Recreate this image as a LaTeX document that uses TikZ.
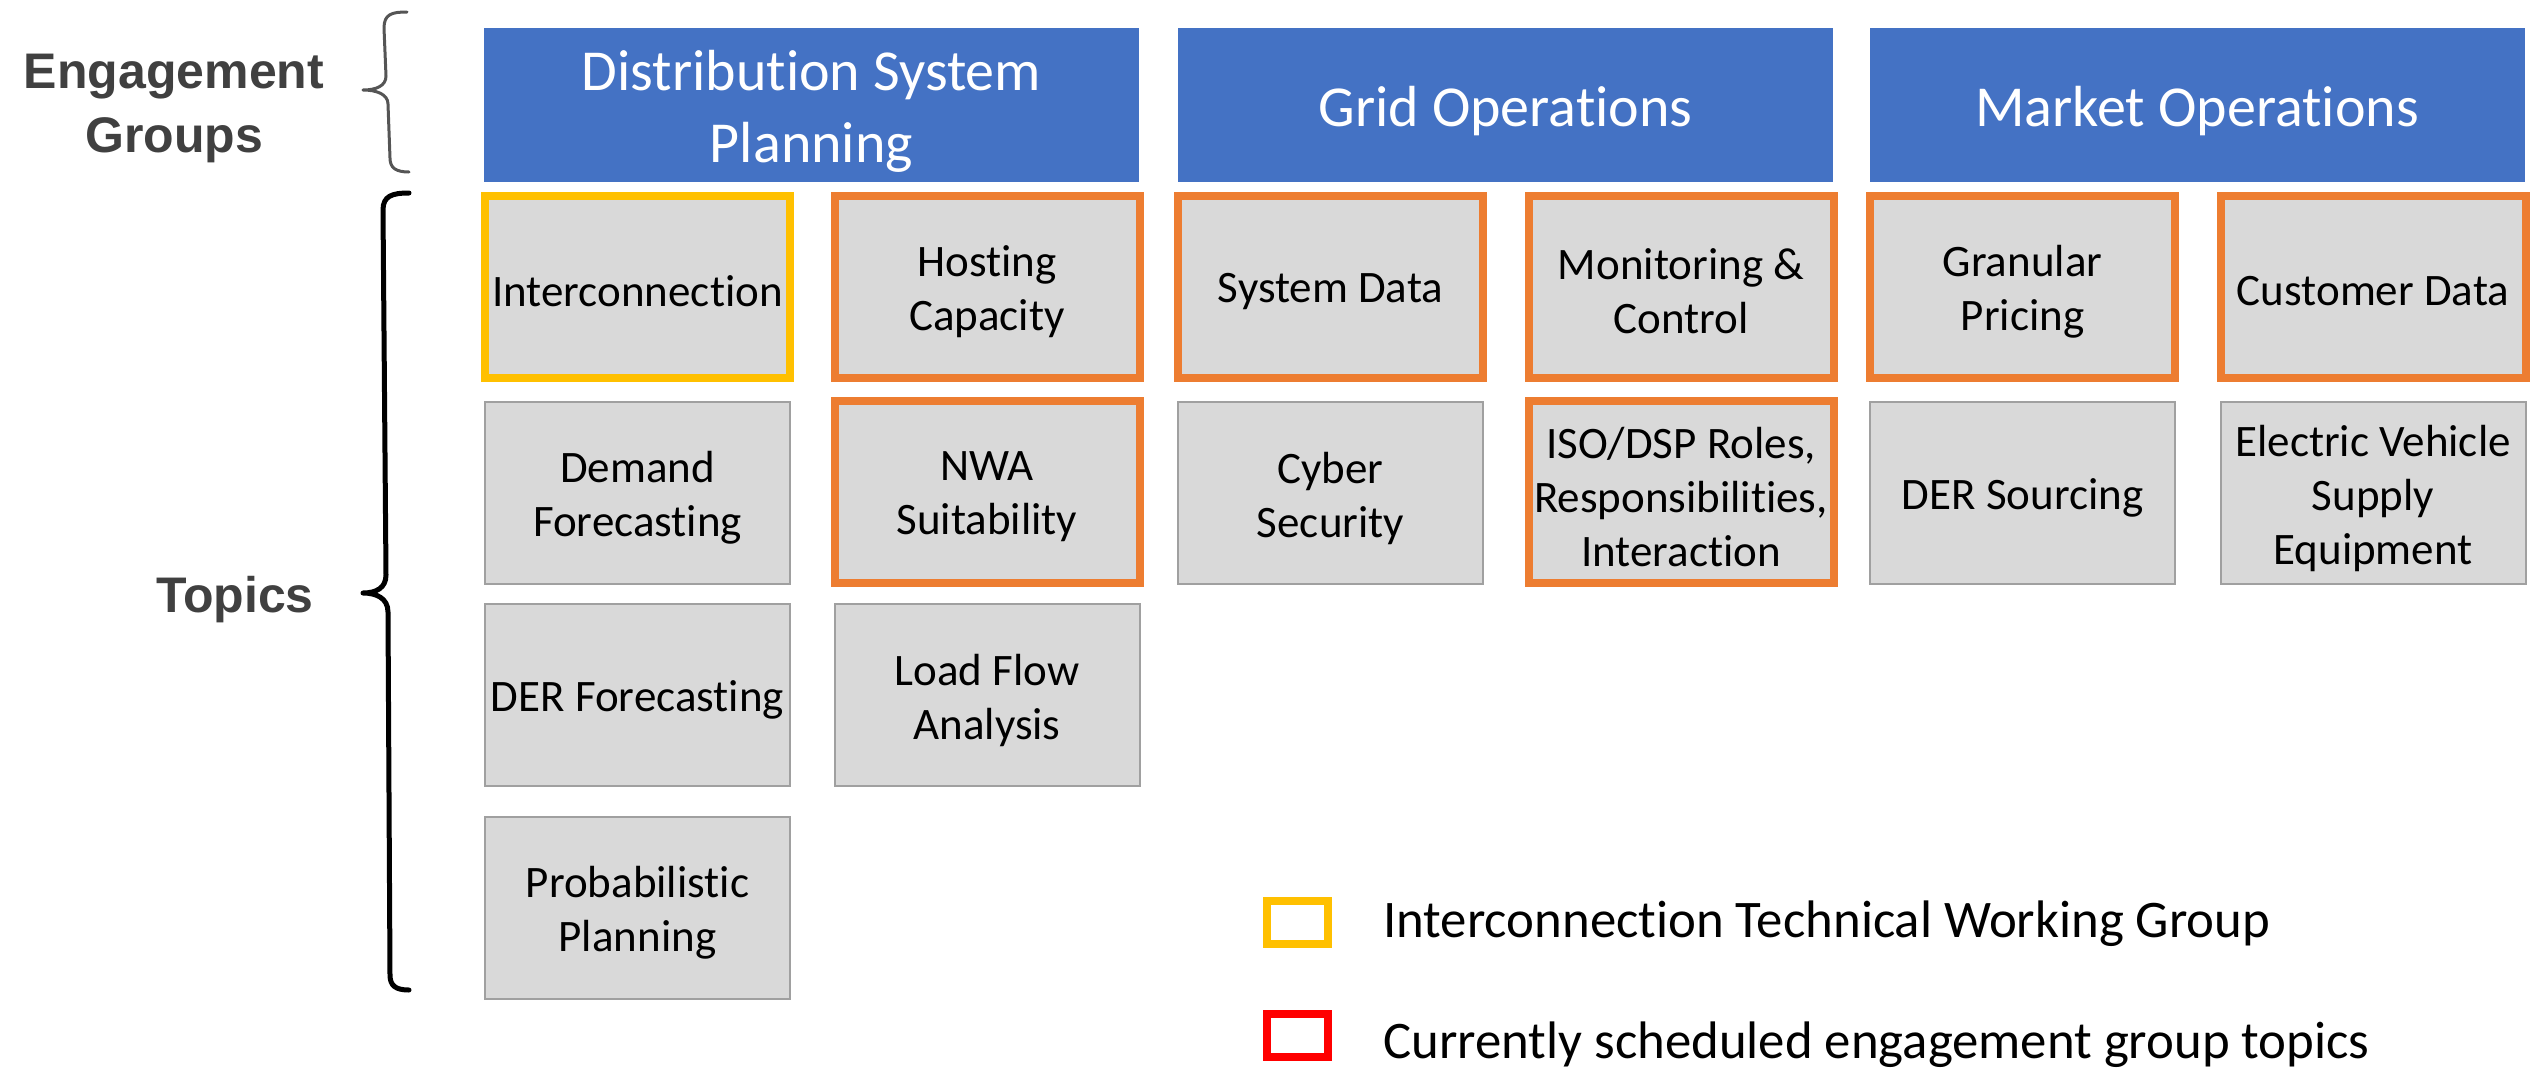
\documentclass[tikz,border=0pt]{standalone}
\usepackage{fontspec}
\setmainfont{Carlito}[Ligatures={NoCommon}]
\newfontfamily\labfont{Liberation Sans}
\definecolor{blueC}{HTML}{4472C4}
\definecolor{orangeC}{HTML}{ED7D31}
\definecolor{yellowC}{HTML}{FFC000}
\definecolor{boxgray}{HTML}{D9D9D9}
\definecolor{bordergray}{HTML}{A0A0A0}
\definecolor{redC}{HTML}{FF0000}
\definecolor{labgray}{HTML}{404040}
\definecolor{bracegray}{HTML}{555555}
\begin{document}
\begin{tikzpicture}[x=1pt,y=-1pt,
  topic/.style={rectangle, fill=boxgray, draw=bordergray, line width=2pt,
    minimum width=305pt, minimum height=182pt, inner sep=0pt},
  orabox/.style={topic, draw=orangeC, line width=8pt},
  yelbox/.style={topic, draw=yellowC, line width=8pt},
  ttext/.style={inner sep=0pt, align=center, font=\fontsize{45}{54}\selectfont, text=black},
  header/.style={rectangle, fill=blueC, minimum width=655pt, minimum height=154pt, inner sep=0pt},
  htext/.style={inner sep=0pt, text=white, align=center, font=\fontsize{58}{72}\selectfont},
  grouplabel/.style={font=\labfont\bfseries\fontsize{50}{64}\selectfont, text=labgray, align=center},
  legsq/.style={rectangle, draw=#1, line width=8pt, minimum width=61pt, minimum height=43pt, inner sep=0pt},
  legtext/.style={anchor=base west, font=\fontsize{52.8}{60}\selectfont, text=black, inner sep=0pt}
]
\useasboundingbox (0,0) rectangle (2531,1068);
% headers
\node[header] (dsp) at (811.5,105) {};
\node[header] (grid) at (1505.5,105) {};
\node[header] (market) at (2197,105) {};
\node[htext] (dspt) at ([yshift=-6pt]dsp.center) {Distribution System\\Planning};
\node[htext] (gridt) at ([yshift=-6pt]grid.center) {Grid Operations};
\node[htext] (markett) at ([yshift=-6pt]market.center) {Market Operations};
% row 1
\node[yelbox] (inter) at (637.5,286.5) {};
\node[orabox] (host) at (987,286.5) {};
\node[orabox] (sysdata) at (1330.5,286.5) {};
\node[orabox] (monit) at (1681,286.5) {};
\node[orabox] (gran) at (2022.5,286.5) {};
\node[orabox] (cust) at (2373,286.5) {};
% row 2
\node[topic] (demand) at (637.5,493) {};
\node[orabox] (nwa) at (987,492) {};
\node[topic] (cyber) at (1330.5,493) {};
\node[orabox] (iso) at (1681,492) {};
\node[topic] (dersrc) at (2022.5,493) {};
\node[topic] (ev) at (2373,493) {};
% row 3
\node[topic] (derfc) at (637.5,695) {};
\node[topic] (loadflow) at (987,695) {};
% row 4
\node[topic] (prob) at (637.5,907.5) {};
% topic texts
\node[ttext] (intert) at ([yshift=-5pt]inter.center) {Interconnection};
\node[ttext] (hostt) at ([yshift=-5pt]host.center) {Hosting\\Capacity};
\node[ttext] (sysdatat) at ([yshift=-5pt]sysdata.center) {System Data};
\node[ttext] (monitt) at ([yshift=-5pt]monit.center) {Monitoring \&\\Control};
\node[ttext] (grant) at ([yshift=-5pt]gran.center) {Granular\\Pricing};
\node[ttext] (custt) at ([yshift=-5pt]cust.center) {Customer Data};
\node[ttext] (demandt) at ([yshift=-5pt]demand.center) {Demand\\Forecasting};
\node[ttext] (nwat) at ([yshift=-5pt]nwa.center) {NWA\\Suitability};
\node[ttext] (cybert) at ([yshift=-5pt]cyber.center) {Cyber\\Security};
\node[ttext] (isot) at ([yshift=-5pt]iso.center) {ISO/DSP Roles,\\Responsibilities,\\Interaction};
\node[ttext] (dersrct) at ([yshift=-5pt]dersrc.center) {DER Sourcing};
\node[ttext] (evt) at ([yshift=-5pt]ev.center) {Electric Vehicle\\Supply\\Equipment};
\node[ttext] (derfct) at ([yshift=-5pt]derfc.center) {DER Forecasting};
\node[ttext] (loadflowt) at ([yshift=-5pt]loadflow.center) {Load Flow\\Analysis};
\node[ttext] (probt) at ([yshift=-5pt]prob.center) {Probabilistic\\Planning};
% labels
\node[grouplabel] (eng) at (174,108) {Engagement\\Groups};
\node[grouplabel, anchor=base] (topics) at (235,612) {Topics};
% braces
\draw[bracegray, line width=3pt, line cap=round, line join=round]
  (407,12) .. controls (392,12) and (384,14) .. (384,28) -- (386,76)
  .. controls (386,86) and (376,90) .. (363,90)
  .. controls (376,90) and (388,94) .. (388,104) -- (390,158)
  .. controls (390,168) and (396,172) .. (409,172);
\draw[black, line width=5pt, line cap=round, line join=round]
  (409,193) .. controls (392,193) and (383,196) .. (383,210) -- (386,575)
  .. controls (386,588) and (376,593) .. (363,593)
  .. controls (376,593) and (388,598) .. (388,612) -- (390,975)
  .. controls (390,986) and (396,990) .. (409,990);
% legend
\node[legsq=yellowC] (legy) at (1297.5,922.5) {};
\node[legsq=redC] (legr) at (1297.5,1035) {};
\node[legtext] (legyt) at (1383,937) {Interconnection Technical Working Group};
\node[legtext] (legrt) at (1383,1058) {Currently scheduled engagement group topics};
\end{tikzpicture}
\end{document}
